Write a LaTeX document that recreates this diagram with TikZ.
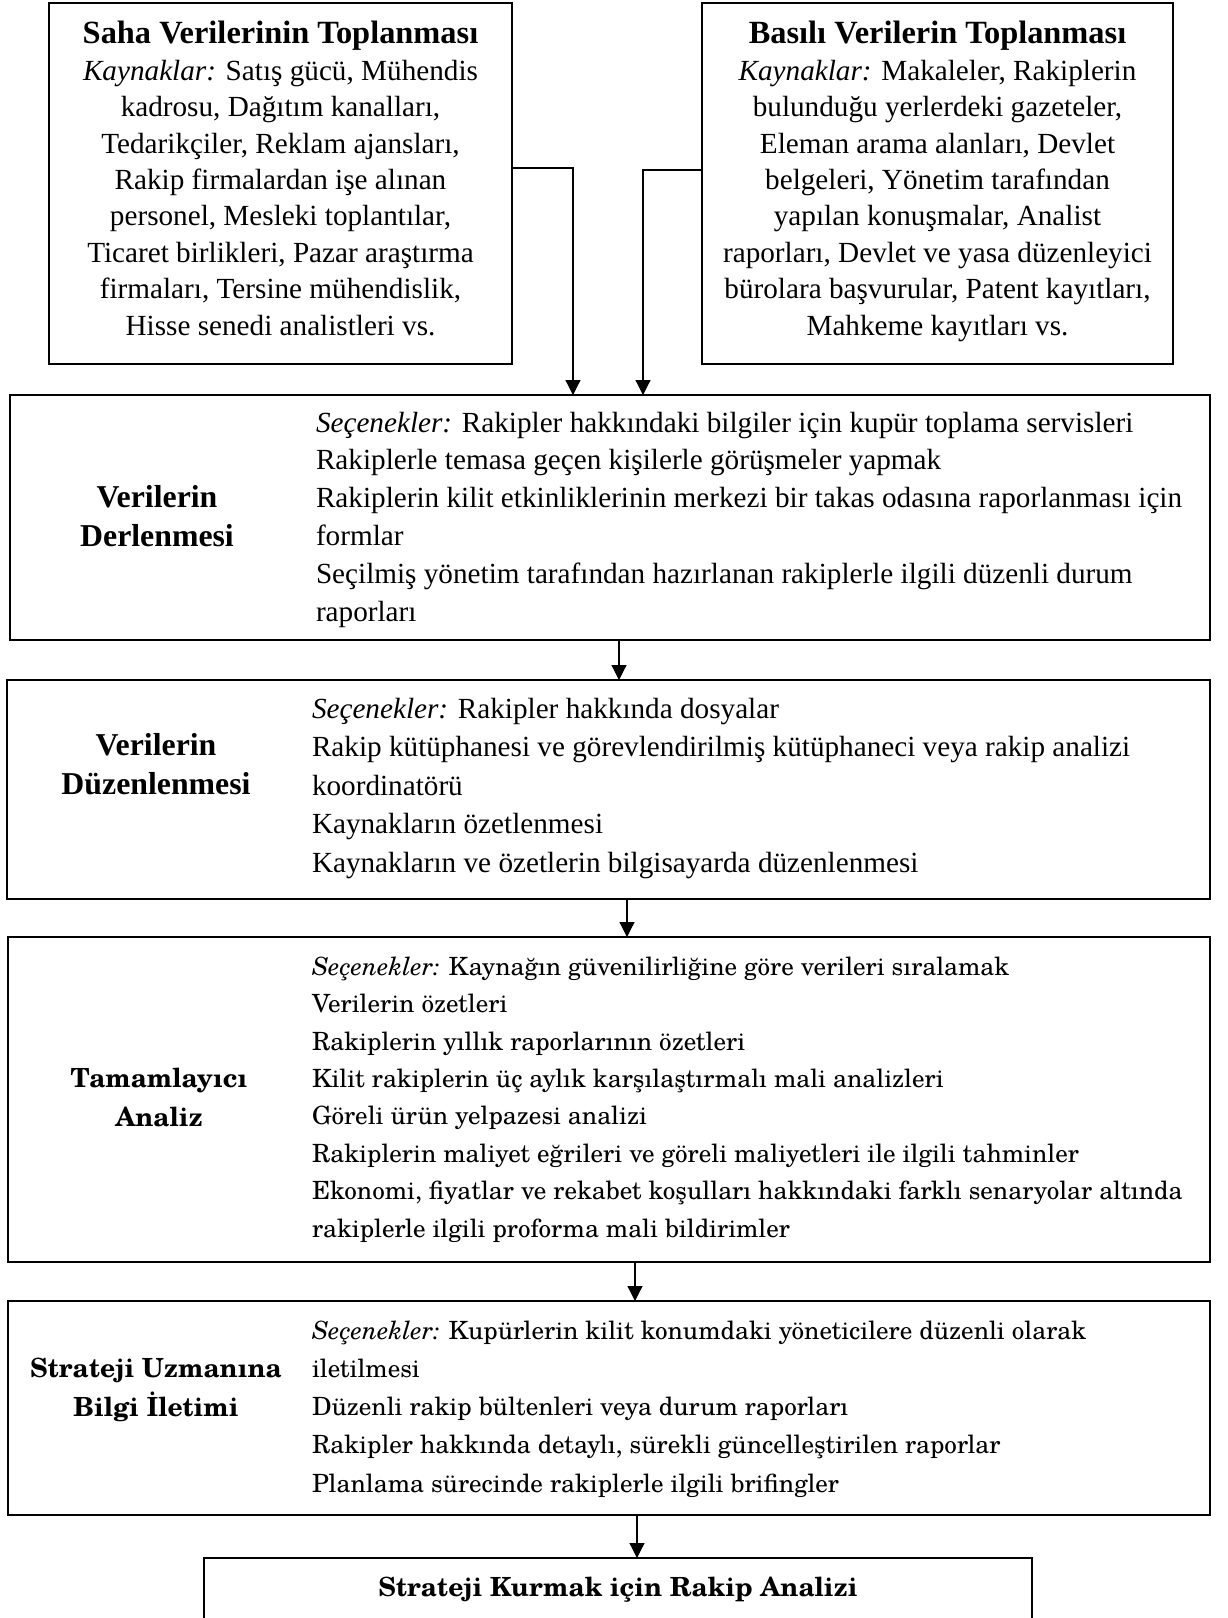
\documentclass[tikz,border=0pt]{standalone}
\usepackage{fontspec}
\setmainfont{Liberation Serif}
\newfontfamily\scholafont{texgyreschola}[Extension=.otf, UprightFont=*-regular, BoldFont=*-bold, ItalicFont=*-italic, BoldItalicFont=*-bolditalic]
\usetikzlibrary{arrows.meta}
\begin{document}
\begin{tikzpicture}[x=0.5pt,y=-0.5pt,
  box/.style={draw, rectangle, line width=1.1pt, inner sep=0pt, outer sep=0pt},
  conn/.style={line width=0.6pt, -{Triangle[width=7.5pt,length=7.5pt]}},
  txt/.style={inner sep=0pt, outer sep=0pt},
  toptext/.style={txt, align=center, anchor=base, font=\fontsize{14.6}{18.2}\selectfont},
  tr/.style={txt, align=left, anchor=base west, font=\fontsize{14.6}{#1}\selectfont},
  lb/.style={txt, align=center, anchor=base, font=\fontsize{15.9}{19.5}\selectfont\bfseries},
  sr/.style={txt, align=left, anchor=base west, font=\scholafont\fontsize{12.55}{#1}\selectfont},
  sb/.style={txt, align=center, anchor=base, font=\scholafont\fontsize{13.2}{19.5}\selectfont\bfseries}
]
\useasboundingbox[fill=white] (0,0) rectangle (1227,1618);

% boxes
\node[box, minimum width=231.5pt, minimum height=180.5pt] (b1) at (280.5,183.5) {};
\node[box, minimum width=235.5pt, minimum height=180.5pt] (b2) at (937.5,183.5) {};
\node[box, minimum width=600pt, minimum height=122.5pt] (b3) at (610,517.5) {};
\node[box, minimum width=601.5pt, minimum height=109.5pt] (b4) at (608.5,789.5) {};
\node[box, minimum width=601pt, minimum height=162.5pt] (b5) at (609,1099.5) {};
\node[box, minimum width=601pt, minimum height=107pt] (b6) at (609,1408) {};
\node[box, minimum width=414pt, minimum height=50pt] (b7) at (618,1608) {};

% top boxes text (anchor = baseline of last line)
\node[toptext] (t1) at (280.5,335) {{\fontsize{16.2}{18.2}\selectfont\bfseries Saha Verilerinin Toplanması}\\
\textit{Kaynaklar:} Satış gücü, Mühendis\\
kadrosu, Dağıtım kanalları,\\
Tedarikçiler, Reklam ajansları,\\
Rakip firmalardan işe alınan\\
personel, Mesleki toplantılar,\\
Ticaret birlikleri, Pazar araştırma\\
firmaları, Tersine mühendislik,\\
Hisse senedi analistleri vs.};
\node[toptext] (t2) at (937.5,335) {{\fontsize{16.2}{18.2}\selectfont\bfseries Basılı Verilerin Toplanması}\\
\textit{Kaynaklar:} Makaleler, Rakiplerin\\
bulunduğu yerlerdeki gazeteler,\\
Eleman arama alanları, Devlet\\
belgeleri, Yönetim tarafından\\
yapılan konuşmalar, Analist\\
raporları, Devlet ve yasa düzenleyici\\
bürolara başvurular, Patent kayıtları,\\
Mahkeme kayıtları vs.};

% stage 3
\node[lb] (l3) at (157,546) {Verilerin\\Derlenmesi};
\node[tr=18.9] (t3) at (316,621) {\textit{Seçenekler:} Rakipler hakkındaki bilgiler için kupür toplama servisleri\\
Rakiplerle temasa geçen kişilerle görüşmeler yapmak\\
Rakiplerin kilit etkinliklerinin merkezi bir takas odasına raporlanması için\\
formlar\\
Seçilmiş yönetim tarafından hazırlanan rakiplerle ilgili düzenli durum\\
raporları};

% stage 4
\node[lb] (l4) at (156,794) {Verilerin\\Düzenlenmesi};
\node[tr=19.25] (t4) at (312,872) {\textit{Seçenekler:} Rakipler hakkında dosyalar\\
Rakip kütüphanesi ve görevlendirilmiş kütüphaneci veya rakip analizi\\
koordinatörü\\
Kaynakların özetlenmesi\\
Kaynakların ve özetlerin bilgisayarda düzenlenmesi};

% stage 5
\node[sb] (l5) at (159,1126) {Tamamlayıcı\\Analiz};
\node[sr=18.7] (t5) at (312,1237) {\textit{Seçenekler:} Kaynağın güvenilirliğine göre verileri sıralamak\\
Verilerin özetleri\\
Rakiplerin yıllık raporlarının özetleri\\
Kilit rakiplerin üç aylık karşılaştırmalı mali analizleri\\
Göreli ürün yelpazesi analizi\\
Rakiplerin maliyet eğrileri ve göreli maliyetleri ile ilgili tahminler\\
Ekonomi, fiyatlar ve rekabet koşulları hakkındaki farklı senaryolar altında\\
rakiplerle ilgili proforma mali bildirimler};

% stage 6
\node[sb] (l6) at (156,1416) {Strateji Uzmanına\\Bilgi İletimi};
\node[sr=19.1] (t6) at (312,1492) {\textit{Seçenekler:} Kupürlerin kilit konumdaki yöneticilere düzenli olarak\\
iletilmesi\\
Düzenli rakip bültenleri veya durum raporları\\
Rakipler hakkında detaylı, sürekli güncelleştirilen raporlar\\
Planlama sürecinde rakiplerle ilgili brifingler};

% final
\node[sb] (t7) at (618,1596) {Strateji Kurmak için Rakip Analizi};

% connectors
\coordinate (k1) at (573,168);
\coordinate (k2) at (643,170);
\draw[conn] (b1.east |- k1) -- (k1) -- (k1 |- b3.north);
\draw[conn] (b2.west |- k2) -- (k2) -- (k2 |- b3.north);
\coordinate (a34) at (619,0);
\coordinate (a45) at (627,0);
\coordinate (a56) at (635,0);
\coordinate (a67) at (637,0);
\draw[conn] (a34 |- b3.south) -- (a34 |- b4.north);
\draw[conn] (a45 |- b4.south) -- (a45 |- b5.north);
\draw[conn] (a56 |- b5.south) -- (a56 |- b6.north);
\draw[conn] (a67 |- b6.south) -- (a67 |- b7.north);
\end{tikzpicture}
\end{document}
